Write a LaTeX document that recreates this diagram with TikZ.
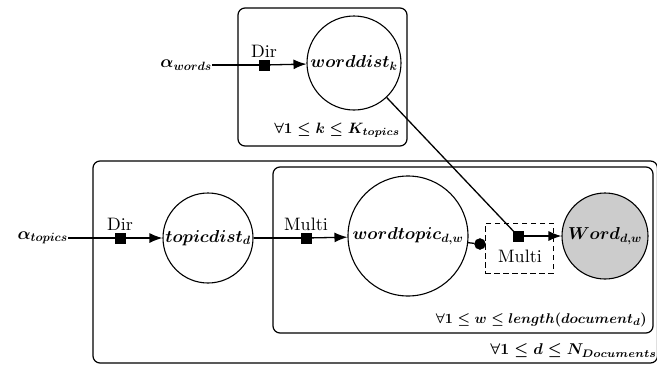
\documentclass[tikz,border=0pt]{standalone}
\usetikzlibrary{arrows.meta}
\newcommand\lbltxt[1]{\scalebox{1.8}{#1}}
\newcommand\bmth[2]{\scalebox{#1}{\boldmath$#2$}}
\begin{document}
\begin{tikzpicture}[x=1pt,y=-1pt,
  mathfont/.style={font=\fontsize{17}{20}\selectfont\boldmath},
  latent/.style={draw,circle,line width=1.1pt,inner sep=0pt,mathfont},
  factor/.style={draw,fill=black,rectangle,minimum size=9.5pt,inner sep=0pt},
  gatedot/.style={draw,fill=black,circle,minimum size=11pt,inner sep=0pt},
  plate/.style={draw,rounded corners=7pt,line width=1.2pt},
  conn/.style={line width=1.3pt},
  arr/.style={line width=1.3pt,-{Latex[length=13pt,width=10pt]}},
  platelbl/.style={anchor=south east,inner sep=0pt}
]
\useasboundingbox (0,0) rectangle (657,365);
% plates
\draw[plate] (238,8) rectangle (407,146);
\draw[plate] (93,161) rectangle (657.5,363);
\draw[plate] (273,167) rectangle (653,333);
% variables
\node[latent,minimum size=94pt] (wd) at (354,63) {$worddist_k$};
\node[latent,minimum size=90pt] (td) at (208,238) {$topicdist_d$};
\node[latent,minimum size=120pt] (wt) at (408,236) {$wordtopic_{d,w}$};
\node[latent,minimum size=86pt,fill=black!20] (wo) at (605,236) {$Word_{d,w}$};
% hyperparameters
\node[mathfont,anchor=east,inner sep=0pt] (aw) at (212,65) {$\alpha_{words}$};
\node[mathfont,anchor=east,inner sep=0pt] (at) at (68,238) {$\alpha_{topics}$};
% factors
\node[factor,label={[inner sep=2pt]above:\lbltxt{Dir}}] (f1) at (264,65) {};
\node[factor,label={[inner sep=2pt]above:\lbltxt{Dir}}] (f2) at (120,238) {};
\node[factor,label={[inner sep=2pt]above:\lbltxt{Multi}}] (f3) at (306,238) {};
\node[draw,dash pattern=on 5.5pt off 3.5pt,line width=1pt,minimum width=68pt,minimum height=50pt,inner sep=0pt] (gate) at (519,248) {};
\node[factor] (f4) at (518,236) {};
\node[inner sep=0pt] (ml) at (520,256) {\lbltxt{Multi}};
\node[gatedot] (g) at (480,244) {};
% plate labels
\node[platelbl] (l1) at (400,138) {\bmth{1.50}{\forall 1\leq k\leq K_{topics}}};
\node[platelbl] (l2) at (647,327) {\bmth{1.41}{\forall 1\leq w\leq length(document_d)}};
\node[platelbl] (l3) at (657,358) {\bmth{1.56}{\forall 1\leq d\leq N_{Documents}}};
% connectors
\draw[conn] (aw) -- (f1);
\draw[arr] (f1) -- (wd);
\draw[conn] (at) -- (f2);
\draw[arr] (f2) -- (td);
\draw[conn] (td) -- (f3);
\draw[arr] (f3) -- (wt);
\draw[conn] (wt) -- (g);
\draw[arr] (f4) -- (wo);
\draw[conn] (wd) -- (f4.center);
\end{tikzpicture}
\end{document}
